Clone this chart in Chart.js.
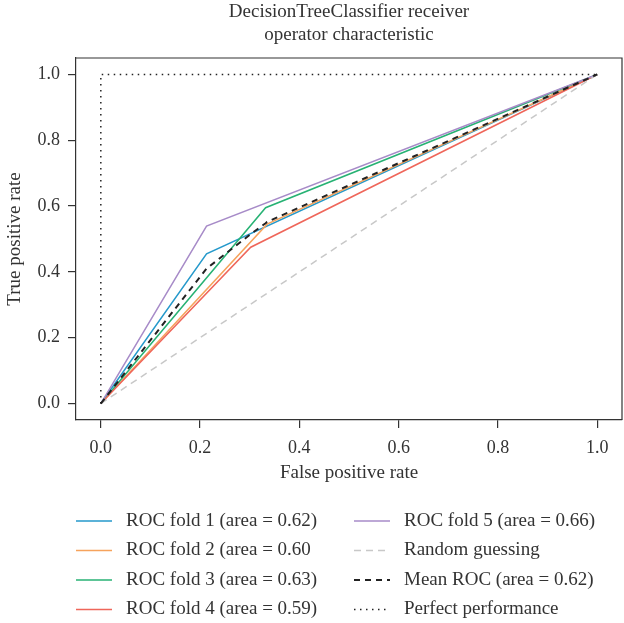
<!DOCTYPE html>
<html>
<head>
<meta charset="utf-8">
<script src="https://cdn.jsdelivr.net/npm/chart.js@4"></script>
<style>
    body { margin: 0; background: #fff; }
    #wrap { width: 624px; height: 623px; position: relative; }
</style>
</head>
<body>
<div id="wrap"><canvas id="roc"></canvas></div>
<script>
// ROC curves (one threshold point per fold)
const foldFpr = [
    [0, 0.213, 1],
    [0, 0.335, 1],
    [0, 0.332, 1],
    [0, 0.302, 1],
    [0, 0.213, 1],
];
const foldTpr = [
    [0, 0.455, 1],
    [0, 0.545, 1],
    [0, 0.595, 1],
    [0, 0.475, 1],
    [0, 0.539, 1],
];
const foldNames = [
    'ROC fold 1 (area = 0.62)',
    'ROC fold 2 (area = 0.60',
    'ROC fold 3 (area = 0.63)',
    'ROC fold 4 (area = 0.59)',
    'ROC fold 5 (area = 0.66)',
];
const foldColors = ['#2599cb', '#f6a35c', '#27b274', '#ef665a', '#a78bc8'];

const meanFpr = [0, 0.213, 0.302, 0.332, 0.335, 1];
const meanTpr = [0, 0.41, 0.515, 0.548, 0.552, 1];
const chanceFpr = [0, 1];
const chanceTpr = [0, 1];
const perfectFpr = [0, 0, 1];
const perfectTpr = [0, 1, 1];

const xTicks = [0, 0.2, 0.4, 0.6, 0.8, 1.0];
const yTicks = [0, 0.2, 0.4, 0.6, 0.8, 1.0];

const serif = '"Liberation Serif", "DejaVu Serif", serif';
const ink = '#333';

const pts = (xs, ys) => xs.map((x, i) => ({ x, y: ys[i] }));

const datasets = foldNames.map((name, i) => ({
    label: name,
    data: pts(foldFpr[i], foldTpr[i]),
    borderColor: foldColors[i],
    borderWidth: 1.5,
}));
datasets.push({
    label: 'Random guessing',
    data: pts(chanceFpr, chanceTpr),
    borderColor: '#c8c8c8',
    borderWidth: 1.5,
    borderDash: [7, 5],
});
datasets.push({
    label: 'Mean ROC (area = 0.62)',
    data: pts(meanFpr, meanTpr),
    borderColor: '#222',
    borderWidth: 2,
    borderDash: [6, 5],
});
datasets.push({
    label: 'Perfect performance',
    data: pts(perfectFpr, perfectTpr),
    borderColor: '#222',
    borderWidth: 1.5,
    borderDash: [1.5, 4.5],
});
datasets.forEach((d, i) => {
    d.order = datasets.length - i;
    d.pointRadius = 0;
    d.tension = 0;
    d.fill = false;
});

// title, axis titles, box and the two-column legend
const decor = {
    id: 'decor',
    afterDraw(chart) {
        const { ctx, chartArea: a } = chart;
        const cx = (a.left + a.right) / 2;
        ctx.save();
        ctx.strokeStyle = ink;
        ctx.lineWidth = 1.2;
        ctx.beginPath();
        ctx.moveTo(a.left, a.top);
        ctx.lineTo(a.right, a.top);
        ctx.lineTo(a.right, a.bottom);
        ctx.stroke();

        ctx.fillStyle = ink;
        ctx.font = '19px ' + serif;
        ctx.textAlign = 'center';
        ctx.textBaseline = 'alphabetic';
        ctx.fillText('DecisionTreeClassifier receiver', cx, 17);
        ctx.fillText('operator characteristic', cx, 40);
        ctx.fillText('False positive rate', cx, 478);

        ctx.save();
        ctx.translate(15, (a.top + a.bottom) / 2);
        ctx.rotate(-Math.PI / 2);
        ctx.textBaseline = 'middle';
        ctx.fillText('True positive rate', 0, 0);
        ctx.restore();

        ctx.textAlign = 'left';
        ctx.textBaseline = 'middle';
        chart.data.datasets.forEach((d, i) => {
            const col = i < 4 ? 0 : 1;
            const row = i % 4;
            const x0 = col === 0 ? 76 : 354;
            const y = 521 + row * 29.5;
            ctx.strokeStyle = d.borderColor;
            ctx.lineWidth = d.borderWidth;
            ctx.setLineDash(d.borderDash || []);
            ctx.beginPath();
            ctx.moveTo(x0, y);
            ctx.lineTo(x0 + 36, y);
            ctx.stroke();
            ctx.setLineDash([]);
            ctx.fillText(d.label, x0 + 50, y);
        });
        ctx.restore();
    }
};

const axisCommon = {
    type: 'linear',
    min: -0.05,
    max: 1.05,
    grid: { drawOnChartArea: false, tickLength: 8, color: ink, lineWidth: 1.2 },
    border: { color: ink, width: 1.2 },
    ticks: {
        font: { family: serif, size: 18 },
        color: ink,
        callback: v => v.toFixed(1),
    },
};

new Chart(document.getElementById('roc'), {
    type: 'line',
    data: { datasets },
    options: {
        responsive: true,
        maintainAspectRatio: false,
        animation: false,
        layout: { padding: { top: 58, right: 2, left: 0, bottom: 0 } },
        plugins: { legend: { display: false }, title: { display: false }, tooltip: { enabled: false } },
        scales: {
            x: {
                ...axisCommon,
                ticks: { ...axisCommon.ticks, padding: 9, maxRotation: 0 },
                afterBuildTicks: s => { s.ticks = xTicks.map(v => ({ value: v })); },
                afterFit: s => { s.height = 203; },
            },
            y: {
                ...axisCommon,
                ticks: { ...axisCommon.ticks, padding: 8 },
                afterBuildTicks: s => { s.ticks = yTicks.map(v => ({ value: v })); },
                afterFit: s => { s.width = 76; },
            },
        },
    },
    plugins: [decor],
});
</script>
</body>
</html>
